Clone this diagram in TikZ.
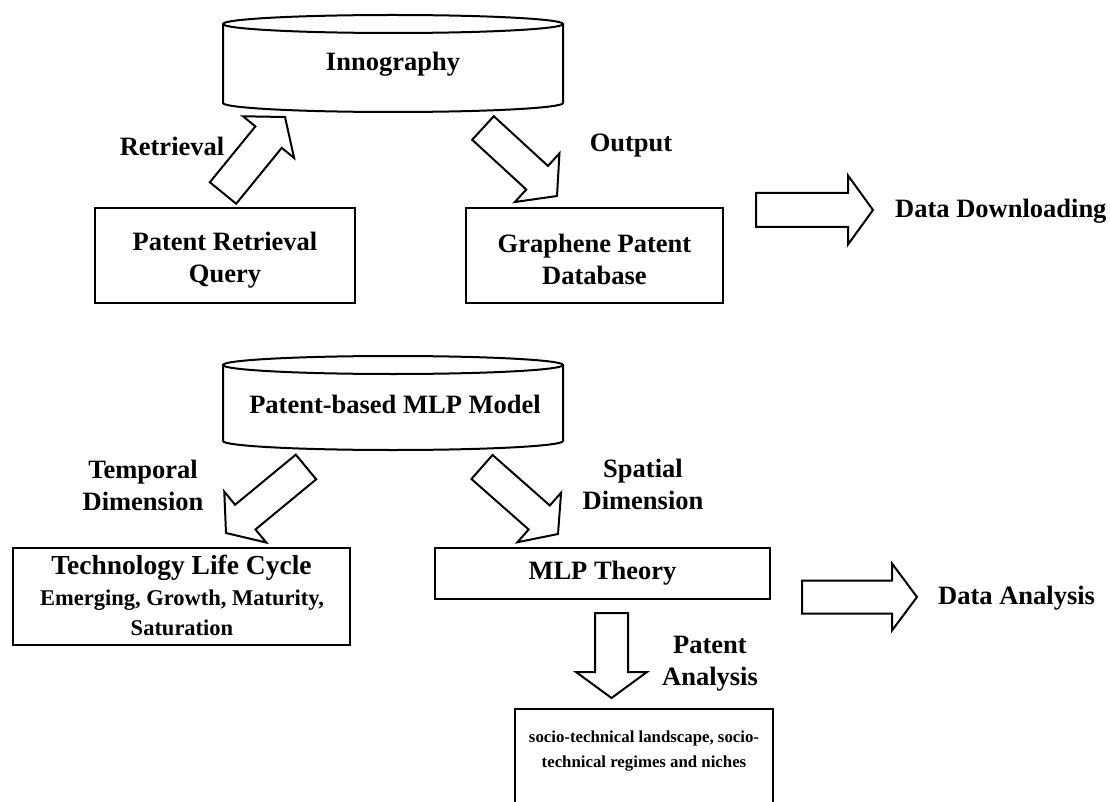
\documentclass[tikz,border=0pt]{standalone}
\usepackage{fontspec}
\setmainfont{Liberation Serif}
\usetikzlibrary{calc}
\tikzset{
  ln/.style={line width=2pt, line join=miter},
  boxnode/.style={draw, line width=2pt, rectangle, inner sep=0pt},
  big/.style={font=\bfseries\fontsize{26.5}{32}\selectfont, align=center, inner sep=0pt},
}
\newcommand{\blockarr}[5]{%
  \draw[ln] ($(#1)!#3!90:(#2)$)
    -- ($($(#2)!#5!(#1)$)!#3!-90:(#1)$)
    -- ($($(#2)!#5!(#1)$)!#4!-90:(#1)$)
    -- (#2)
    -- ($($(#2)!#5!(#1)$)!#4!90:(#1)$)
    -- ($($(#2)!#5!(#1)$)!#3!90:(#1)$)
    -- ($(#1)!#3!-90:(#2)$) -- cycle;}
\begin{document}
\begin{tikzpicture}[x=1pt,y=-1pt]
\useasboundingbox (0,0) rectangle (1110,802);
\fill[white] (0,0) rectangle (1110,802);

% ---------- top cylinder ----------
\draw[ln] (223,24) -- (223,103) arc[start angle=180, end angle=0, x radius=170, y radius=9] -- (563,24);
\draw[ln] (393,24) ellipse [x radius=170, y radius=9];
\node[big] (inn) at (393,64) {Innography};

% ---------- top boxes ----------
\node[boxnode, minimum width=260pt, minimum height=95pt] (prq) at (225,255.5) {};
\node[big] (prqt) at (225,260) {Patent Retrieval\\Query};
\node[boxnode, minimum width=257pt, minimum height=95pt] (gpd) at (594.5,255.5) {};
\node[big] (gpdt) at (594.5,259) {Graphene Patent\\Database};

% arrows top
\coordinate (ra) at (223,193); \coordinate (rb) at (285,117);
\blockarr{ra}{rb}{17pt}{33pt}{26pt}
\node[big] (retr) at (172,146) {Retrieval};

\coordinate (oa) at (483,128); \coordinate (ob) at (557,196);
\blockarr{oa}{ob}{16pt}{33pt}{27pt}
\node[big] (outp) at (631,146) {Output};

\coordinate (da) at (756,210); \coordinate (db) at (873,210);
\blockarr{da}{db}{17pt}{34.5pt}{25pt}
\node[big, anchor=west] (dd) at (895,211) {Data Downloading};

% ---------- MLP cylinder ----------
\draw[ln] (223,365) -- (223,441) arc[start angle=180, end angle=0, x radius=170, y radius=9] -- (563,365);
\draw[ln] (393,365) ellipse [x radius=170, y radius=9];
\node[big] (mlpm) at (395,404) {Patent-based MLP Model};

% temporal
\coordinate (ta) at (306,467); \coordinate (tb) at (226,533);
\blockarr{ta}{tb}{16pt}{33pt}{25pt}
\node[big] (temp) at (143,485) {Temporal\\Dimension};

% spatial
\coordinate (sa) at (482,467); \coordinate (sb) at (558,534);
\blockarr{sa}{sb}{16pt}{33pt}{25pt}
\node[big] (spat) at (643,484) {Spatial\\Dimension};

% TLC box
\node[boxnode, minimum width=337pt, minimum height=97pt] (tlc) at (181.5,596.5) {};
\node[font=\bfseries\fontsize{27.5}{30}\selectfont, inner sep=0pt] (tlct) at (181.5,568) {Technology Life Cycle};
\node[font=\bfseries\fontsize{22.5}{30.5}\selectfont, inner sep=0pt, align=center] (tlcs) at (182,613) {Emerging, Growth, Maturity,\\Saturation};

% MLP theory
\node[boxnode, minimum width=335pt, minimum height=51pt] (mlpt) at (602.5,573.5) {};
\node[font=\bfseries\fontsize{26.5}{32}\selectfont, inner sep=0pt] (mlptt) at (602.5,573) {MLP Theory};

\coordinate (aa) at (802,597); \coordinate (ab) at (917,597);
\blockarr{aa}{ab}{16.5pt}{33.5pt}{25pt}
\node[big, anchor=west] (dan) at (938,598) {Data Analysis};

% patent analysis
\coordinate (pa) at (611.5,613); \coordinate (pb) at (611.5,698);
\blockarr{pa}{pb}{16.5pt}{35.5pt}{26pt}
\node[big] (pan) at (710,664) {Patent\\Analysis};

% bottom box
\draw[ln] (515,815) -- (515,709) -- (773,709) -- (773,815);
\node[font=\bfseries\fontsize{16.8}{25}\selectfont, inner sep=0pt, align=center] (soc) at (644,751) {socio-technical landscape, socio-\\technical regimes and niches};
\end{tikzpicture}
\end{document}
